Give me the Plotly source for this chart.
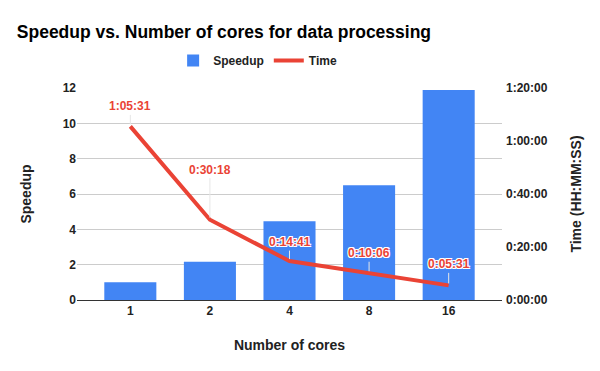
import plotly.graph_objects as go

# Data
cores = ["1", "2", "4", "8", "16"]
speedup = [1.0, 2.16, 4.46, 6.49, 11.88]
time_seconds = [3931, 1818, 881, 606, 331]
time_ticks = [0, 1200, 2400, 3600, 4800]

BLUE = "#4285f4"
RED = "#ea4335"
FONT = "Liberation Sans, Arial, sans-serif"


def hms(s):
    return f"{s // 3600}:{(s % 3600) // 60:02d}:{s % 60:02d}"


fig = go.Figure()
fig.add_trace(go.Bar(
    x=cores, y=speedup, name="Speedup",
    marker=dict(color=BLUE, line=dict(width=0)),
))
fig.add_trace(go.Scatter(
    x=cores, y=time_seconds, name="Time", yaxis="y2",
    mode="lines", line=dict(color=RED, width=4),
))

# value labels with leader lines (x given as category index)
offsets = [-20, -50, -19, -20, -21]
outline = "1px 1px 0 #fff, -1px -1px 0 #fff, 1px -1px 0 #fff, -1px 1px 0 #fff, 0 1px 0 #fff, 0 -1px 0 #fff"
for i, (t, off) in enumerate(zip(time_seconds, offsets)):
    fig.add_annotation(
        x=i, y=t, yref="y2", text=hms(t),
        showarrow=True, arrowhead=0, arrowwidth=1, arrowcolor="#e6e6e6",
        ax=0, ay=off, standoff=2,
        font=dict(family=FONT, size=12, color=RED, weight="bold", shadow=outline),
    )

fig.update_layout(
    width=600, height=371,
    margin=dict(l=77, r=98, t=88, b=71),
    paper_bgcolor="white", plot_bgcolor="white",
    font=dict(family=FONT, size=12, color="#222222"),
    title=dict(
        text="<b>Speedup vs. Number of cores for data processing</b>",
        x=0.028, xanchor="left", xref="container",
        y=0.915, yanchor="middle",
        font=dict(size=17.5, color="#000000"),
    ),
    legend=dict(
        orientation="h", x=0.425, xanchor="center", y=1.13, yanchor="middle",
        font=dict(size=12, weight="bold", color="#222222"),
        itemwidth=30,
    ),
    bargap=0.346,
    xaxis=dict(
        type="category", range=[-0.67, 4.67],
        showgrid=False, showline=True, linecolor="#333333", linewidth=1,
        ticks="", tickfont=dict(weight="bold"),
        title=dict(text="<b>Number of cores</b>", standoff=22),
    ),
    yaxis=dict(
        range=[0, 12], dtick=2, showgrid=True, gridcolor="#cccccc",
        zeroline=False, tickfont=dict(weight="bold"),
        title=dict(text="<b>Speedup</b>", standoff=27),
    ),
    yaxis2=dict(
        overlaying="y", side="right", range=[0, 4800],
        tickvals=time_ticks, ticktext=[hms(t) for t in time_ticks],
        showgrid=False, zeroline=False, tickfont=dict(weight="bold"),
        ticklabelstandoff=3,
        title=dict(text="<b>Time (HH:MM:SS)</b>", standoff=24),
    ),
)

fig.write_html("out.html", config={"displayModeBar": False},
               post_script="document.body.style.margin='0';")
